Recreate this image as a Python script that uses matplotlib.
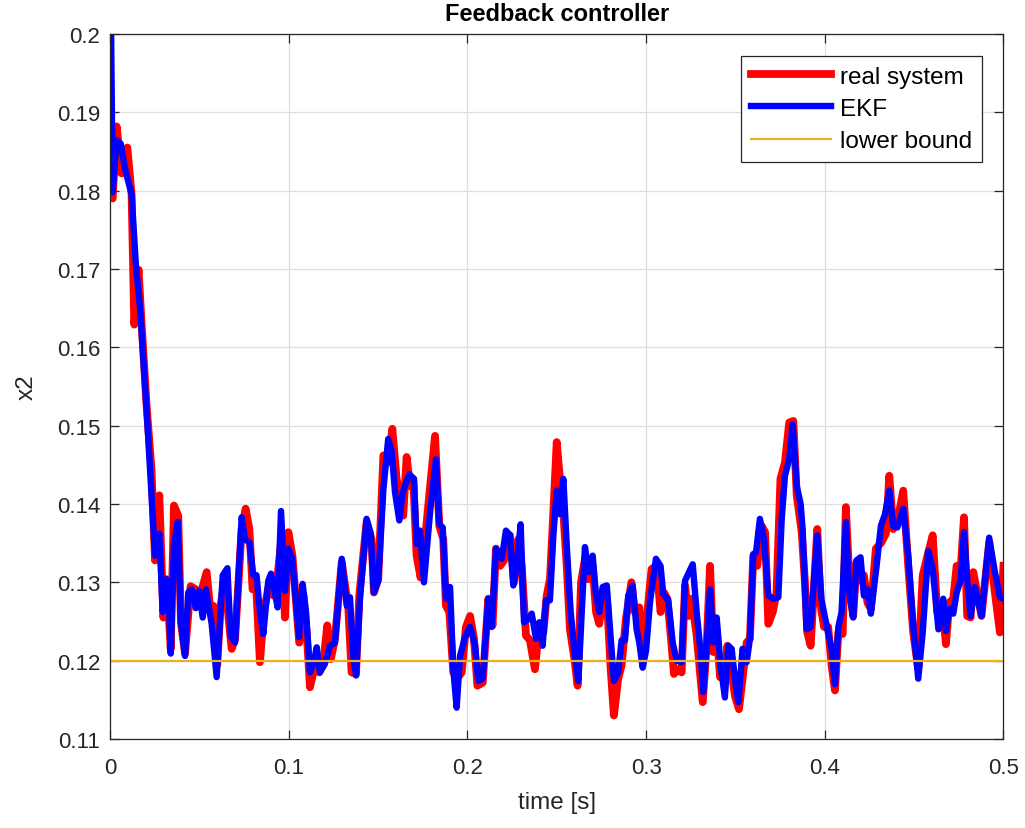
import matplotlib
matplotlib.use("Agg")
import matplotlib.pyplot as plt

plt.rcParams['font.family'] = ['Liberation Sans', 'DejaVu Sans']

# real system state x2
t_real = [0, 0.0015, 0.0037, 0.0065, 0.0097, 0.0121, 0.0136, 0.016, 0.0177, 0.0205,
          0.0232, 0.0252, 0.0276, 0.0299, 0.0317, 0.034, 0.0358, 0.0382, 0.0397, 0.042,
          0.0451, 0.048, 0.05, 0.0541, 0.0561, 0.0578, 0.06, 0.0619, 0.0645, 0.0664,
          0.0681, 0.07, 0.0737, 0.0759, 0.078, 0.0798, 0.0817, 0.0839, 0.0861, 0.0895,
          0.0916, 0.0936, 0.0961, 0.0979, 0.0998, 0.1021, 0.1059, 0.1082, 0.1101, 0.1119,
          0.1147, 0.1171, 0.1194, 0.1216, 0.1236, 0.1259, 0.1297, 0.1334, 0.1352, 0.1377,
          0.1395, 0.1436, 0.1464, 0.1477, 0.1501, 0.153, 0.1557, 0.158, 0.1604, 0.1641,
          0.166, 0.1679, 0.1697, 0.1716, 0.1738, 0.1763, 0.1796, 0.1819, 0.1843, 0.1865,
          0.188, 0.1899, 0.1921, 0.1943, 0.1968, 0.1992, 0.2015, 0.2037, 0.2056, 0.2086,
          0.2117, 0.2141, 0.216, 0.2183, 0.2205, 0.222, 0.2238, 0.2261, 0.2285, 0.2304,
          0.2328, 0.235, 0.2378, 0.2403, 0.2425, 0.2444, 0.2462, 0.2481, 0.25, 0.2518,
          0.2537, 0.2556, 0.2574, 0.2599, 0.2617, 0.2636, 0.2658, 0.2677, 0.2701, 0.272,
          0.2738, 0.2761, 0.2783, 0.2802, 0.282, 0.2844, 0.2863, 0.2887, 0.2918, 0.2937,
          0.2962, 0.2981, 0.3003, 0.3031, 0.3059, 0.3081, 0.31, 0.3119, 0.3138, 0.3156,
          0.318, 0.3199, 0.3218, 0.3237, 0.3255, 0.3283, 0.3317, 0.3339, 0.3358, 0.3376,
          0.3395, 0.3414, 0.3436, 0.3455, 0.3474, 0.3497, 0.352, 0.3544, 0.3563, 0.3581,
          0.36, 0.3622, 0.3647, 0.3666, 0.3684, 0.3709, 0.373, 0.3752, 0.3777, 0.3801,
          0.3824, 0.3843, 0.3871, 0.389, 0.3902, 0.3921, 0.3958, 0.3977, 0.3996, 0.4019,
          0.4038, 0.4057, 0.4076, 0.41, 0.4118, 0.4141, 0.4159, 0.4178, 0.4197, 0.4219,
          0.4239, 0.4258, 0.4286, 0.4317, 0.4342, 0.4361, 0.4383, 0.4406, 0.4439, 0.4467,
          0.4495, 0.4523, 0.4548, 0.4579, 0.4604, 0.4629, 0.466, 0.4678, 0.4697, 0.4719,
          0.4738, 0.4757, 0.4779, 0.4797, 0.4816, 0.4831, 0.4877, 0.492, 0.4952, 0.498,
          0.5]
x2_real = [0.18, 0.179, 0.1882, 0.1822, 0.1855, 0.1795, 0.1629, 0.1699, 0.163, 0.1525,
           0.1445, 0.1328, 0.1411, 0.1255, 0.1304, 0.1215, 0.1398, 0.1385, 0.1249, 0.1209,
           0.1295, 0.1291, 0.1279, 0.1313, 0.1266, 0.127, 0.1194, 0.127, 0.1309, 0.1253,
           0.1215, 0.1228, 0.1368, 0.1394, 0.1368, 0.1291, 0.13, 0.1198, 0.1262, 0.1304,
           0.1283, 0.1304, 0.136, 0.1255, 0.1364, 0.1334, 0.1223, 0.1283, 0.1236, 0.1166,
           0.1194, 0.1185, 0.1198, 0.1245, 0.1202, 0.1228, 0.1326, 0.1266, 0.1185, 0.1183,
           0.1283, 0.1377, 0.1355, 0.1287, 0.1304, 0.1462, 0.1453, 0.1496, 0.1432, 0.1385,
           0.146, 0.1423, 0.1432, 0.1334, 0.1306, 0.1355, 0.1432, 0.1487, 0.1372, 0.1355,
           0.127, 0.1262, 0.1185, 0.1177, 0.1185, 0.1243, 0.1257, 0.1228, 0.1168, 0.1172,
           0.1279, 0.1245, 0.1343, 0.1321, 0.1328, 0.1362, 0.136, 0.13, 0.1355, 0.1321,
           0.1232, 0.1226, 0.1189, 0.1245, 0.1236, 0.1283, 0.1304, 0.1389, 0.1479, 0.1432,
           0.1389, 0.1321, 0.124, 0.1202, 0.1168, 0.13, 0.133, 0.1304, 0.1321, 0.1262,
           0.1247, 0.1287, 0.127, 0.1189, 0.113, 0.1177, 0.1194, 0.1253, 0.13, 0.1262,
           0.1268, 0.1202, 0.1253, 0.1317, 0.1321, 0.1262, 0.1287, 0.1279, 0.1232, 0.1183,
           0.1189, 0.1185, 0.1296, 0.1257, 0.1279, 0.1232, 0.1147, 0.1219, 0.1321, 0.1211,
           0.1236, 0.1179, 0.1177, 0.1219, 0.1194, 0.1155, 0.1138, 0.1185, 0.1223, 0.1228,
           0.1334, 0.1321, 0.1372, 0.1364, 0.1247, 0.1262, 0.1287, 0.1432, 0.1453, 0.1504,
           0.1506, 0.1411, 0.1364, 0.1296, 0.1236, 0.1219, 0.1368, 0.127, 0.1243, 0.1243,
           0.1194, 0.1162, 0.1236, 0.1234, 0.1396, 0.1287, 0.1257, 0.1326, 0.1302, 0.1309,
           0.1274, 0.1266, 0.1343, 0.1351, 0.1362, 0.1436, 0.1368, 0.1377, 0.1417, 0.1321,
           0.1236, 0.1189, 0.1309, 0.1338, 0.136, 0.1262, 0.1266, 0.1221, 0.1274, 0.1279,
           0.1321, 0.1304, 0.1383, 0.1257, 0.1255, 0.1313, 0.1257, 0.1351, 0.1287, 0.1236,
           0.1321]

# EKF estimate of x2
t_ekf = [0, 0.0015, 0.0037, 0.006, 0.0084, 0.0121, 0.0145, 0.017, 0.0205, 0.0224,
         0.0252, 0.0276, 0.0295, 0.0313, 0.0326, 0.034, 0.0358, 0.0379, 0.0397, 0.042,
         0.0438, 0.0457, 0.048, 0.0498, 0.0519, 0.0537, 0.0569, 0.0597, 0.0631, 0.0657,
         0.0675, 0.07, 0.0737, 0.0755, 0.078, 0.0802, 0.082, 0.0839, 0.0858, 0.0886,
         0.0901, 0.0916, 0.0938, 0.0957, 0.0979, 0.0998, 0.102, 0.1058, 0.1078, 0.1097,
         0.1119, 0.1138, 0.1157, 0.1175, 0.1203, 0.1231, 0.1259, 0.1297, 0.1325, 0.1343,
         0.1362, 0.1377, 0.1399, 0.1436, 0.1459, 0.1477, 0.1501, 0.153, 0.1557, 0.1576,
         0.1595, 0.1619, 0.1638, 0.1675, 0.1701, 0.1716, 0.1735, 0.1757, 0.1791, 0.1824,
         0.1843, 0.1862, 0.188, 0.1903, 0.1921, 0.194, 0.1959, 0.1987, 0.2015, 0.2043,
         0.2061, 0.2086, 0.2117, 0.2136, 0.216, 0.2192, 0.2216, 0.2238, 0.2257, 0.2276,
         0.2298, 0.2317, 0.2341, 0.236, 0.2384, 0.2403, 0.2421, 0.244, 0.2462, 0.2481,
         0.25, 0.2518, 0.2537, 0.2556, 0.2578, 0.2602, 0.2621, 0.264, 0.2658, 0.2677,
         0.2701, 0.272, 0.2738, 0.2757, 0.278, 0.2802, 0.282, 0.2844, 0.2863, 0.2882,
         0.29, 0.2925, 0.2947, 0.2962, 0.2981, 0.3, 0.3022, 0.3055, 0.3081, 0.3096,
         0.3124, 0.3149, 0.3171, 0.3199, 0.3218, 0.3261, 0.3283, 0.3302, 0.332, 0.3339,
         0.3358, 0.3376, 0.3395, 0.3417, 0.3441, 0.346, 0.3479, 0.3497, 0.3516, 0.354,
         0.3563, 0.3581, 0.36, 0.3615, 0.3637, 0.366, 0.3684, 0.3712, 0.374, 0.3759,
         0.3777, 0.3801, 0.382, 0.3843, 0.3865, 0.3876, 0.3898, 0.3921, 0.3958, 0.3982,
         0.401, 0.4038, 0.4057, 0.4076, 0.4094, 0.4118, 0.4137, 0.4159, 0.4178, 0.42,
         0.4219, 0.4239, 0.4258, 0.429, 0.4314, 0.4337, 0.4361, 0.4383, 0.4406, 0.4439,
         0.4467, 0.4495, 0.4523, 0.4548, 0.4579, 0.4604, 0.4636, 0.4663, 0.4678, 0.4697,
         0.4719, 0.4738, 0.476, 0.4779, 0.4797, 0.4816, 0.484, 0.4877, 0.492, 0.4952,
         0.498, 0.5]
x2_ekf = [0.215, 0.1798, 0.1864, 0.186, 0.1828, 0.1795, 0.1705, 0.1645, 0.152, 0.1445,
          0.1334, 0.1362, 0.1262, 0.1304, 0.13, 0.1209, 0.1347, 0.1377, 0.1249, 0.1206,
          0.1287, 0.1291, 0.1267, 0.1289, 0.1255, 0.1291, 0.1247, 0.1179, 0.1309, 0.1318,
          0.1232, 0.1223, 0.1383, 0.1355, 0.1351, 0.1309, 0.1309, 0.1262, 0.1234, 0.1302,
          0.1311, 0.1296, 0.1268, 0.1391, 0.1289, 0.1343, 0.133, 0.123, 0.1298, 0.1262,
          0.1185, 0.1196, 0.1217, 0.1185, 0.1196, 0.1219, 0.1223, 0.133, 0.127, 0.1281,
          0.1204, 0.1181, 0.1279, 0.1381, 0.1362, 0.1287, 0.1302, 0.1419, 0.1483, 0.1468,
          0.1415, 0.1379, 0.1415, 0.1438, 0.1432, 0.1349, 0.1366, 0.13, 0.1389, 0.1457,
          0.1374, 0.137, 0.1279, 0.1294, 0.1189, 0.114, 0.1206, 0.123, 0.1243, 0.1219,
          0.1174, 0.1177, 0.1279, 0.1243, 0.1343, 0.133, 0.1366, 0.136, 0.1296, 0.1321,
          0.1374, 0.1249, 0.1253, 0.126, 0.1228, 0.1249, 0.1219, 0.1277, 0.1277, 0.136,
          0.1417, 0.1387, 0.1432, 0.1347, 0.1262, 0.1206, 0.1174, 0.1262, 0.1345, 0.1313,
          0.1334, 0.1283, 0.1262, 0.1294, 0.1296, 0.1228, 0.1174, 0.1185, 0.1226, 0.1226,
          0.1283, 0.1296, 0.124, 0.1223, 0.1191, 0.1213, 0.1275, 0.133, 0.1321, 0.1285,
          0.1277, 0.1223, 0.12, 0.1198, 0.1302, 0.1323, 0.1262, 0.1219, 0.116, 0.1219,
          0.1291, 0.1223, 0.1255, 0.1194, 0.1153, 0.1219, 0.1215, 0.1177, 0.1147, 0.1215,
          0.1198, 0.1228, 0.1336, 0.1338, 0.1381, 0.1355, 0.1283, 0.1279, 0.1281, 0.1381,
          0.1436, 0.1457, 0.1502, 0.1423, 0.14, 0.1368, 0.124, 0.1243, 0.136, 0.1277,
          0.1245, 0.1215, 0.117, 0.1243, 0.1262, 0.1377, 0.1287, 0.1255, 0.1328, 0.1332,
          0.1283, 0.1291, 0.126, 0.1321, 0.1372, 0.1387, 0.1417, 0.1372, 0.137, 0.1394,
          0.1334, 0.1245, 0.1177, 0.1236, 0.134, 0.1317, 0.124, 0.1279, 0.1238, 0.1266,
          0.126, 0.1287, 0.1302, 0.1364, 0.1304, 0.1257, 0.1294, 0.1257, 0.1357, 0.1313,
          0.1281, 0.1279]

lower_bound = 0.12

x_ticks = [0, 0.1, 0.2, 0.3, 0.4, 0.5]
x_ticklabels = ['0', '0.1', '0.2', '0.3', '0.4', '0.5']
y_ticks = [0.11, 0.12, 0.13, 0.14, 0.15, 0.16, 0.17, 0.18, 0.19, 0.2]
y_ticklabels = ['0.11', '0.12', '0.13', '0.14', '0.15', '0.16', '0.17', '0.18', '0.19', '0.2']

axis_col = '#262626'

fig = plt.figure(figsize=(10.25, 8.29), dpi=100)
ax = fig.add_axes([0.1073, 0.1074, 0.8717, 0.8504])

ax.plot(t_real, x2_real, color='#ff0000', lw=5.6, label='real system')
ax.plot(t_ekf, x2_ekf, color='#0000ff', lw=4.6, label='EKF')
ax.plot([0, 0.5], [lower_bound, lower_bound], color='#edb120', lw=1.6, label='lower bound')

ax.set_xlim(0, 0.5)
ax.set_ylim(0.11, 0.2)
ax.set_xticks(x_ticks)
ax.set_xticklabels(x_ticklabels)
ax.set_yticks(y_ticks)
ax.set_yticklabels(y_ticklabels)

ax.grid(True, color='#dedede', lw=0.9)
ax.set_axisbelow(True)
ax.tick_params(direction='in', length=6.5, width=0.9, top=True, right=True,
               labelsize=16, colors=axis_col, pad=7)
ax.tick_params(axis='x', pad=13)
for s in ax.spines.values():
    s.set_color(axis_col)
    s.set_linewidth(0.9)

ax.set_xlabel('time [s]', fontsize=17.5, color=axis_col, labelpad=9)
ax.set_ylabel('x2', fontsize=17.5, color=axis_col, labelpad=14)
ax.set_title('Feedback controller', fontsize=17, fontweight='bold', color='black', pad=10)

leg = ax.legend(loc='upper right', fontsize=17.5, frameon=True, fancybox=False,
                framealpha=1, edgecolor=axis_col, handlelength=3.3,
                handletextpad=0.35, labelspacing=0.42, borderpad=0.4,
                borderaxespad=0.9)
leg.get_frame().set_linewidth(0.9)

fig.savefig('out.png', dpi=100)
